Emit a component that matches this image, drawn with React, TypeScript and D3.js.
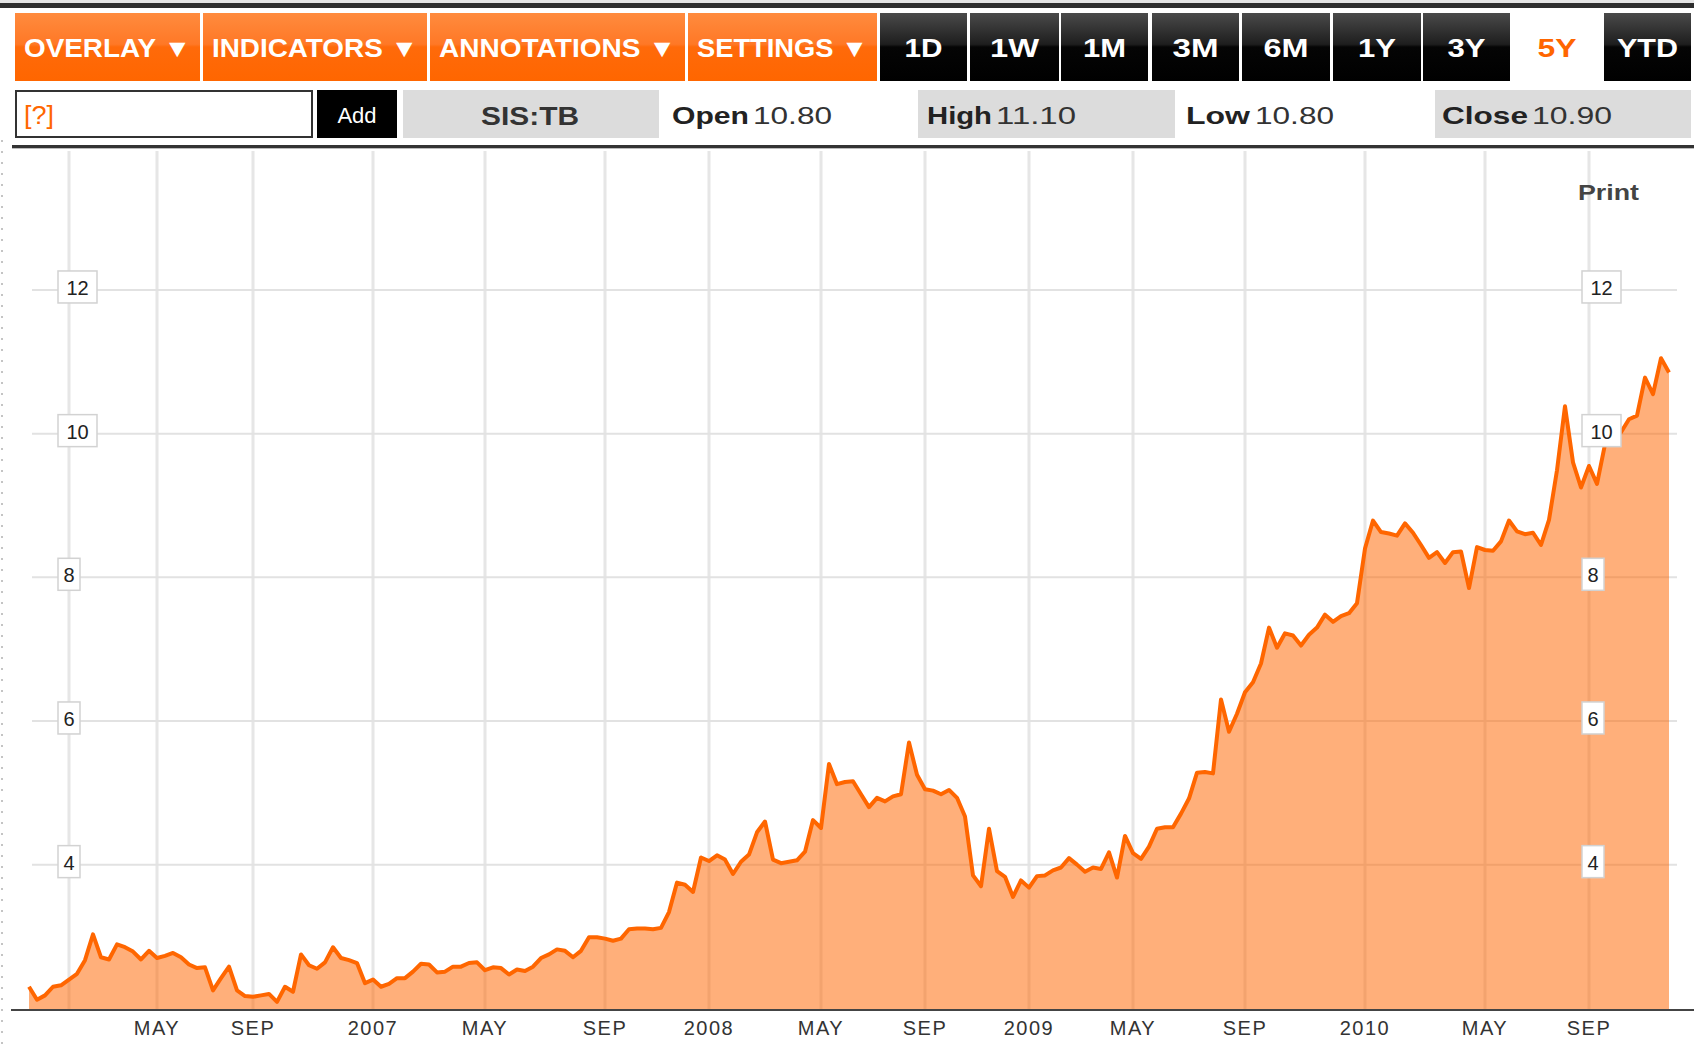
import * as d3 from "d3";

// weekly closes, SIS:TB, 5Y (left to right)
const closes = [
  2.3, 2.12, 2.18, 2.3, 2.32, 2.4, 2.48, 2.67, 3.03, 2.71,
  2.68, 2.89, 2.85, 2.79, 2.68, 2.8, 2.7, 2.73, 2.77, 2.71,
  2.61, 2.56, 2.57, 2.25, 2.42, 2.58, 2.25, 2.17, 2.16, 2.18,
  2.2, 2.09, 2.3, 2.23, 2.75, 2.6, 2.55, 2.64, 2.85, 2.7,
  2.67, 2.63, 2.35, 2.4, 2.3, 2.34, 2.42, 2.42, 2.51, 2.62,
  2.61, 2.5, 2.51, 2.58, 2.58, 2.63, 2.64, 2.53, 2.57, 2.56,
  2.47, 2.54, 2.52, 2.58, 2.7, 2.75, 2.82, 2.8, 2.71, 2.8,
  2.99, 2.99, 2.97, 2.94, 2.97, 3.1, 3.11, 3.11, 3.1, 3.12,
  3.34, 3.75, 3.72, 3.62, 4.1, 4.05, 4.13, 4.07, 3.87, 4.04,
  4.14, 4.45, 4.6, 4.07, 4.02, 4.04, 4.06, 4.18, 4.62, 4.51,
  5.4, 5.12, 5.15, 5.16, 4.98, 4.8, 4.93, 4.88, 4.95, 4.98,
  5.7, 5.25, 5.05, 5.03, 4.98, 5.04, 4.93, 4.67, 3.85, 3.7,
  4.5, 3.91, 3.83, 3.55, 3.78, 3.68, 3.84, 3.85, 3.92, 3.96,
  4.09, 4.0, 3.9, 3.96, 3.94, 4.17, 3.82, 4.4, 4.16, 4.08,
  4.25, 4.5, 4.52, 4.52, 4.71, 4.92, 5.28, 5.29, 5.27, 6.3,
  5.85, 6.1, 6.4, 6.54, 6.8, 7.3, 7.02, 7.22, 7.19, 7.05,
  7.2, 7.3, 7.48, 7.38, 7.46, 7.5, 7.64, 8.4, 8.79, 8.63,
  8.61, 8.58, 8.75, 8.62, 8.45, 8.27, 8.35, 8.2, 8.35, 8.36,
  7.85, 8.42, 8.38, 8.37, 8.5, 8.79, 8.64, 8.6, 8.62, 8.45,
  8.8, 9.49, 10.38, 9.6, 9.25, 9.55, 9.3, 9.85, 9.92, 10.02,
  10.2, 10.25, 10.78, 10.55, 11.05, 10.85,
];

// index of the first sample in each labelled month (Jan 2006 .. Sep 2010)
const tickIdx = [5, 16, 28, 43, 57, 72, 85, 99, 112, 125, 138, 152, 167, 182, 195];
const tickLabels = ["", "MAY", "SEP", "2007", "MAY", "SEP", "2008", "MAY", "SEP", "2009", "MAY", "SEP", "2010", "MAY", "SEP"];
const yTicks = [4, 6, 8, 10, 12];

const menuLabels = ["OVERLAY ▼", "INDICATORS ▼", "ANNOTATIONS ▼", "SETTINGS ▼"];
const rangeLabels = ["1D", "1W", "1M", "3M", "6M", "1Y", "3Y", "5Y", "YTD"];
const activeRange = "5Y";
const symbol = "SIS:TB";
const quoteKeys = ["Open", "High", "Low", "Close"];
const quoteVals = ["10.80", "11.10", "10.80", "10.90"];

// layout (toolbar chrome)
const menuEdges = [[15, 200], [203, 427], [430, 685], [688, 877]];
const rangeEdges = [[880, 967], [970, 1059], [1061, 1148], [1152, 1239], [1242, 1330], [1333, 1421], [1423, 1510], [1513, 1601], [1604, 1691]];
const rangeTextW = [38, 49, 43, 46, 45, 38, 38, 39, 61];
const quoteLayout = [
  { box: null, kx: 672, kw: 77, vx: 753, vw: 79 },
  { box: [918, 1175], kx: 927, kw: 65, vx: 996, vw: 80 },
  { box: null, kx: 1186, kw: 64, vx: 1255, vw: 79 },
  { box: [1435, 1691], kx: 1442, kw: 86, vx: 1532, vw: 80 },
];

const W = 1694;
const H = 1048;
const BASE = 1010;
const FONT = "'Liberation Sans', Arial, sans-serif";
const ORANGE = "#ff6600";

export default function App() {
  const x = d3.scaleLinear().domain([0, closes.length - 1]).range([29, 1669]);
  const y = d3.scaleLinear().domain([2, 14]).range([1008.3, 146.3]);

  const area = d3
    .area<number>()
    .x((_, i) => x(i))
    .y0(BASE - 1)
    .y1((d) => y(d));
  const line = d3
    .line<number>()
    .x((_, i) => x(i))
    .y((d) => y(d));

  const boxW = (v: number) => (String(v).length > 1 ? 39 : 22);

  return (
    <svg
      width={W}
      height={H}
      style={{ position: "absolute", left: 0, top: 0, display: "block", background: "#fff" }}
      fontFamily={FONT}
    >
      <defs>
        <linearGradient id="og" x1="0" y1="0" x2="0" y2="1">
          <stop offset="0" stopColor="#ff8b3e" />
          <stop offset="0.46" stopColor="#ff7826" />
          <stop offset="0.5" stopColor="#ff6a0a" />
          <stop offset="1" stopColor="#ff6600" />
        </linearGradient>
        <linearGradient id="bg" x1="0" y1="0" x2="0" y2="1">
          <stop offset="0" stopColor="#4a4a4a" />
          <stop offset="0.46" stopColor="#1e1e1e" />
          <stop offset="0.5" stopColor="#050505" />
          <stop offset="1" stopColor="#000" />
        </linearGradient>
      </defs>

      {/* top frame */}
      <rect x={0} y={0} width={W} height={3} fill="#e4e4e4" />
      <rect x={0} y={3} width={W} height={5} fill="#2e2e2e" />
      <line x1={2} x2={2} y1={140} y2={H} stroke="#c4c4c4" strokeWidth={2} strokeDasharray="2,9" />

      {/* menu row */}
      {menuLabels.map((m, i) => {
        const [a, b] = menuEdges[i];
        return (
          <g key={m}>
            <rect x={a} y={13} width={b - a} height={68} fill="url(#og)" />
            <text
              x={a + 9}
              y={57}
              fill="#fff"
              fontSize={25}
              fontWeight="bold"
              textLength={b - a - 18}
              lengthAdjust="spacingAndGlyphs"
            >
              {m}
            </text>
          </g>
        );
      })}
      {rangeLabels.map((r, i) => {
        const [a, b] = rangeEdges[i];
        const on = r === activeRange;
        return (
          <g key={r}>
            <rect x={a} y={13} width={b - a} height={68} fill={on ? "#fff" : "url(#bg)"} />
            <text
              x={(a + b) / 2 - rangeTextW[i] / 2}
              y={57}
              fill={on ? ORANGE : "#fff"}
              fontSize={25}
              fontWeight="bold"
              textLength={rangeTextW[i]}
              lengthAdjust="spacingAndGlyphs"
            >
              {r}
            </text>
          </g>
        );
      })}

      {/* symbol / quote row */}
      <rect x={16} y={91} width={296} height={46} fill="#fff" stroke="#333" strokeWidth={2} />
      <text x={24} y={124} fill={ORANGE} fontSize={25} textLength={30} lengthAdjust="spacingAndGlyphs">
        [?]
      </text>
      <rect x={317} y={90} width={80} height={48} fill="#000" />
      <text x={357} y={123} fill="#fff" fontSize={22} textAnchor="middle">
        Add
      </text>
      <rect x={403} y={90} width={256} height={48} fill="#dcdcdc" />
      <text x={481} y={125} fill="#333" fontSize={26} fontWeight="bold" textLength={98} lengthAdjust="spacingAndGlyphs">
        {symbol}
      </text>
      {quoteKeys.map((k, i) => {
        const q = quoteLayout[i];
        return (
          <g key={k}>
            {q.box && <rect x={q.box[0]} y={90} width={q.box[1] - q.box[0]} height={48} fill="#dcdcdc" />}
            <text x={q.kx} y={124} fill="#222" fontSize={24} fontWeight="bold" textLength={q.kw} lengthAdjust="spacingAndGlyphs">
              {k}
            </text>
            <text x={q.vx} y={124} fill="#333" fontSize={24} textLength={q.vw} lengthAdjust="spacingAndGlyphs">
              {quoteVals[i]}
            </text>
          </g>
        );
      })}
      <rect x={12} y={145} width={W - 12} height={3} fill="#333" />
      <rect x={12} y={148} width={W - 12} height={1} fill="#bbb" />

      {/* grid */}
      {tickIdx.map((t) => (
        <line key={"v" + t} x1={x(t)} x2={x(t)} y1={151} y2={BASE} stroke="#e6e6e6" strokeWidth={3} />
      ))}
      {yTicks.map((v) => (
        <line key={"h" + v} x1={32} x2={1677} y1={y(v)} y2={y(v)} stroke="#e2e2e2" strokeWidth={2} />
      ))}

      {/* price */}
      <path d={area(closes) || ""} fill={ORANGE} fillOpacity={0.52} />
      <path d={line(closes) || ""} fill="none" stroke={ORANGE} strokeWidth={4} strokeLinejoin="round" />

      {/* axis */}
      <rect x={11} y={BASE - 1} width={W - 11} height={2} fill="#444" />
      {tickIdx.map((t, i) => (
        <text
          key={"l" + t}
          x={x(t)}
          y={1035}
          fill="#333"
          fontSize={20}
          textAnchor="middle"
          letterSpacing={1.5}
        >
          {tickLabels[i]}
        </text>
      ))}

      {/* value labels, both sides */}
      {yTicks.map((v) =>
        [58, 1582].map((bx) => (
          <g key={"y" + v + bx}>
            <rect x={bx} y={y(v) - 19} width={boxW(v)} height={32} fill="#fff" stroke="#d2d2d2" strokeWidth={1.5} />
            <text x={bx + boxW(v) / 2} y={y(v) + 5} fill="#222" fontSize={20} textAnchor="middle">
              {v}
            </text>
          </g>
        ))
      )}

      <text x={1578} y={200} fill="#444" fontSize={22} fontWeight="bold" textLength={61} lengthAdjust="spacingAndGlyphs">
        Print
      </text>
    </svg>
  );
}
